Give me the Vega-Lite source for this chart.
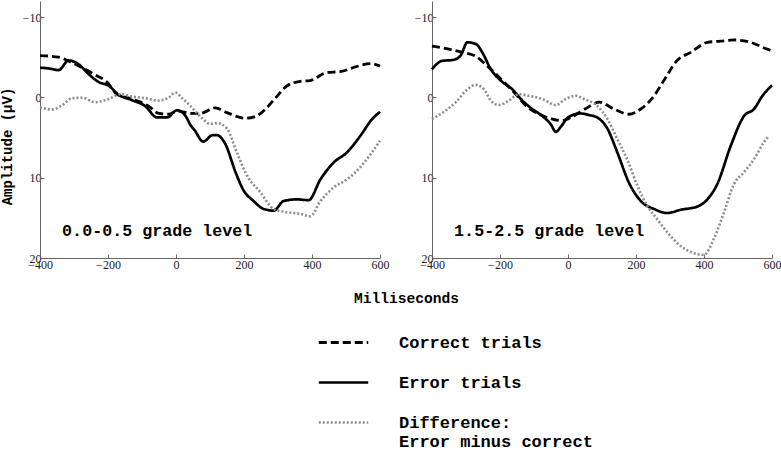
{
  "$schema": "https://vega.github.io/schema/vega-lite/v6.json",
  "padding": {"left": 0, "top": 1, "right": 0, "bottom": 0},
  "background": "white",
  "config": {
    "view": {"stroke": null},
    "axis": {
      "grid": false, "domainColor": "#666", "tickColor": "#666", "tickSize": -4,
      "labelFont": "Liberation Sans Narrow", "labelFontSize": 12, "labelColor": "#222", "labelFlush": false, "labelPadding": 3,
      "titleFont": "Liberation Mono", "titleFontWeight": "bold", "titleColor": "black"
    },
    "axisX": {"labelPadding": 5}
  },
  "datasets": {
    "erp": [
      {"panel":"A","series":"Correct","ms":-400,"uv":-5.2},{"panel":"A","series":"Correct","ms":-345,"uv":-5.0},{"panel":"A","series":"Correct","ms":-315,"uv":-4.5},{"panel":"A","series":"Correct","ms":-276,"uv":-3.7},{"panel":"A","series":"Correct","ms":-242,"uv":-2.9},{"panel":"A","series":"Correct","ms":-203,"uv":-1.9},{"panel":"A","series":"Correct","ms":-174,"uv":-0.4},{"panel":"A","series":"Correct","ms":-139,"uv":0.1},{"panel":"A","series":"Correct","ms":-110,"uv":0.5},{"panel":"A","series":"Correct","ms":-80,"uv":1.1},{"panel":"A","series":"Correct","ms":-51,"uv":2.0},{"panel":"A","series":"Correct","ms":-21,"uv":2.1},{"panel":"A","series":"Correct","ms":3,"uv":1.7},{"panel":"A","series":"Correct","ms":47,"uv":2.0},{"panel":"A","series":"Correct","ms":72,"uv":2.0},{"panel":"A","series":"Correct","ms":86,"uv":1.8},{"panel":"A","series":"Correct","ms":116,"uv":1.3},{"panel":"A","series":"Correct","ms":150,"uv":1.9},{"panel":"A","series":"Correct","ms":204,"uv":2.6},{"panel":"A","series":"Correct","ms":238,"uv":2.3},{"panel":"A","series":"Correct","ms":268,"uv":1.25},{"panel":"A","series":"Correct","ms":292,"uv":0.1},{"panel":"A","series":"Correct","ms":327,"uv":-1.45},{"panel":"A","series":"Correct","ms":366,"uv":-2.0},{"panel":"A","series":"Correct","ms":395,"uv":-2.1},{"panel":"A","series":"Correct","ms":444,"uv":-3.1},{"panel":"A","series":"Correct","ms":483,"uv":-3.2},{"panel":"A","series":"Correct","ms":528,"uv":-3.8},{"panel":"A","series":"Correct","ms":572,"uv":-4.2},{"panel":"A","series":"Correct","ms":600,"uv":-3.9},
      {"panel":"A","series":"Error","ms":-400,"uv":-3.7},{"panel":"A","series":"Error","ms":-374,"uv":-3.6},{"panel":"A","series":"Error","ms":-345,"uv":-3.4},{"panel":"A","series":"Error","ms":-316,"uv":-4.6},{"panel":"A","series":"Error","ms":-286,"uv":-4.1},{"panel":"A","series":"Error","ms":-257,"uv":-2.9},{"panel":"A","series":"Error","ms":-227,"uv":-1.9},{"panel":"A","series":"Error","ms":-198,"uv":-1.45},{"panel":"A","series":"Error","ms":-168,"uv":-0.3},{"panel":"A","series":"Error","ms":-129,"uv":0.35},{"panel":"A","series":"Error","ms":-90,"uv":1.1},{"panel":"A","series":"Error","ms":-56,"uv":2.5},{"panel":"A","series":"Error","ms":-26,"uv":2.5},{"panel":"A","series":"Error","ms":3,"uv":1.6},{"panel":"A","series":"Error","ms":28,"uv":2.3},{"panel":"A","series":"Error","ms":42,"uv":3.4},{"panel":"A","series":"Error","ms":55,"uv":4.1},{"panel":"A","series":"Error","ms":80,"uv":5.5},{"panel":"A","series":"Error","ms":108,"uv":4.7},{"panel":"A","series":"Error","ms":120,"uv":4.7},{"panel":"A","series":"Error","ms":145,"uv":5.8},{"panel":"A","series":"Error","ms":175,"uv":9.3},{"panel":"A","series":"Error","ms":199,"uv":11.6},{"panel":"A","series":"Error","ms":228,"uv":12.9},{"panel":"A","series":"Error","ms":258,"uv":13.9},{"panel":"A","series":"Error","ms":287,"uv":14.1},{"panel":"A","series":"Error","ms":317,"uv":12.9},{"panel":"A","series":"Error","ms":356,"uv":12.7},{"panel":"A","series":"Error","ms":390,"uv":12.8},{"panel":"A","series":"Error","ms":425,"uv":10.2},{"panel":"A","series":"Error","ms":464,"uv":8.1},{"panel":"A","series":"Error","ms":503,"uv":6.85},{"panel":"A","series":"Error","ms":542,"uv":4.8},{"panel":"A","series":"Error","ms":577,"uv":2.7},{"panel":"A","series":"Error","ms":600,"uv":1.8},
      {"panel":"A","series":"Difference","ms":-400,"uv":1.25},{"panel":"A","series":"Difference","ms":-365,"uv":1.5},{"panel":"A","series":"Difference","ms":-335,"uv":1.0},{"panel":"A","series":"Difference","ms":-306,"uv":0.1},{"panel":"A","series":"Difference","ms":-276,"uv":0.05},{"panel":"A","series":"Difference","ms":-237,"uv":0.6},{"panel":"A","series":"Difference","ms":-198,"uv":0.2},{"panel":"A","series":"Difference","ms":-164,"uv":-0.4},{"panel":"A","series":"Difference","ms":-129,"uv":-0.1},{"panel":"A","series":"Difference","ms":-90,"uv":0.1},{"panel":"A","series":"Difference","ms":-51,"uv":0.4},{"panel":"A","series":"Difference","ms":-21,"uv":0.0},{"panel":"A","series":"Difference","ms":-2,"uv":-0.6},{"panel":"A","series":"Difference","ms":18,"uv":0.1},{"panel":"A","series":"Difference","ms":42,"uv":1.05},{"panel":"A","series":"Difference","ms":77,"uv":2.6},{"panel":"A","series":"Difference","ms":100,"uv":3.3},{"panel":"A","series":"Difference","ms":121,"uv":3.2},{"panel":"A","series":"Difference","ms":150,"uv":3.9},{"panel":"A","series":"Difference","ms":179,"uv":6.85},{"panel":"A","series":"Difference","ms":209,"uv":9.75},{"panel":"A","series":"Difference","ms":248,"uv":11.8},{"panel":"A","series":"Difference","ms":287,"uv":13.9},{"panel":"A","series":"Difference","ms":327,"uv":14.3},{"panel":"A","series":"Difference","ms":366,"uv":14.5},{"panel":"A","series":"Difference","ms":395,"uv":14.8},{"panel":"A","series":"Difference","ms":425,"uv":12.9},{"panel":"A","series":"Difference","ms":464,"uv":11.2},{"panel":"A","series":"Difference","ms":503,"uv":10.2},{"panel":"A","series":"Difference","ms":542,"uv":8.7},{"panel":"A","series":"Difference","ms":572,"uv":7.1},{"panel":"A","series":"Difference","ms":600,"uv":5.4},
      {"panel":"B","series":"Correct","ms":-400,"uv":-6.4},{"panel":"B","series":"Correct","ms":-350,"uv":-6.0},{"panel":"B","series":"Correct","ms":-311,"uv":-5.6},{"panel":"B","series":"Correct","ms":-271,"uv":-5.1},{"panel":"B","series":"Correct","ms":-232,"uv":-3.7},{"panel":"B","series":"Correct","ms":-193,"uv":-2.1},{"panel":"B","series":"Correct","ms":-154,"uv":-0.4},{"panel":"B","series":"Correct","ms":-124,"uv":1.05},{"panel":"B","series":"Correct","ms":-85,"uv":2.1},{"panel":"B","series":"Correct","ms":-46,"uv":2.7},{"panel":"B","series":"Correct","ms":-17,"uv":2.9},{"panel":"B","series":"Correct","ms":13,"uv":2.4},{"panel":"B","series":"Correct","ms":50,"uv":1.45},{"panel":"B","series":"Correct","ms":93,"uv":0.6},{"panel":"B","series":"Correct","ms":135,"uv":1.45},{"panel":"B","series":"Correct","ms":179,"uv":2.1},{"panel":"B","series":"Correct","ms":214,"uv":1.45},{"panel":"B","series":"Correct","ms":248,"uv":0.1},{"panel":"B","series":"Correct","ms":282,"uv":-2.1},{"panel":"B","series":"Correct","ms":321,"uv":-4.6},{"panel":"B","series":"Correct","ms":361,"uv":-5.6},{"panel":"B","series":"Correct","ms":410,"uv":-6.85},{"panel":"B","series":"Correct","ms":449,"uv":-7.0},{"panel":"B","series":"Correct","ms":488,"uv":-7.15},{"panel":"B","series":"Correct","ms":537,"uv":-6.85},{"panel":"B","series":"Correct","ms":586,"uv":-6.0},{"panel":"B","series":"Correct","ms":600,"uv":-5.8},
      {"panel":"B","series":"Error","ms":-400,"uv":-3.5},{"panel":"B","series":"Error","ms":-370,"uv":-4.55},{"panel":"B","series":"Error","ms":-340,"uv":-4.65},{"panel":"B","series":"Error","ms":-316,"uv":-5.2},{"panel":"B","series":"Error","ms":-296,"uv":-6.85},{"panel":"B","series":"Error","ms":-271,"uv":-6.65},{"panel":"B","series":"Error","ms":-252,"uv":-5.6},{"panel":"B","series":"Error","ms":-227,"uv":-3.5},{"panel":"B","series":"Error","ms":-198,"uv":-2.1},{"panel":"B","series":"Error","ms":-164,"uv":-1.0},{"panel":"B","series":"Error","ms":-134,"uv":0.4},{"panel":"B","series":"Error","ms":-105,"uv":1.45},{"panel":"B","series":"Error","ms":-76,"uv":2.3},{"panel":"B","series":"Error","ms":-50,"uv":3.4},{"panel":"B","series":"Error","ms":-36,"uv":4.3},{"panel":"B","series":"Error","ms":-20,"uv":3.6},{"panel":"B","series":"Error","ms":0,"uv":2.5},{"panel":"B","series":"Error","ms":37,"uv":2.0},{"panel":"B","series":"Error","ms":62,"uv":2.2},{"panel":"B","series":"Error","ms":86,"uv":2.5},{"panel":"B","series":"Error","ms":116,"uv":3.9},{"panel":"B","series":"Error","ms":145,"uv":6.85},{"panel":"B","series":"Error","ms":179,"uv":10.6},{"panel":"B","series":"Error","ms":214,"uv":12.9},{"panel":"B","series":"Error","ms":253,"uv":13.9},{"panel":"B","series":"Error","ms":292,"uv":14.4},{"panel":"B","series":"Error","ms":331,"uv":14.0},{"panel":"B","series":"Error","ms":380,"uv":13.6},{"panel":"B","series":"Error","ms":410,"uv":12.7},{"panel":"B","series":"Error","ms":439,"uv":10.8},{"panel":"B","series":"Error","ms":479,"uv":6.0},{"panel":"B","series":"Error","ms":518,"uv":2.3},{"panel":"B","series":"Error","ms":547,"uv":1.45},{"panel":"B","series":"Error","ms":572,"uv":-0.2},{"panel":"B","series":"Error","ms":600,"uv":-1.5},
      {"panel":"B","series":"Difference","ms":-400,"uv":2.7},{"panel":"B","series":"Difference","ms":-360,"uv":1.65},{"panel":"B","series":"Difference","ms":-330,"uv":0.6},{"panel":"B","series":"Difference","ms":-301,"uv":-0.8},{"panel":"B","series":"Difference","ms":-271,"uv":-1.55},{"panel":"B","series":"Difference","ms":-247,"uv":-1.0},{"panel":"B","series":"Difference","ms":-227,"uv":0.4},{"panel":"B","series":"Difference","ms":-203,"uv":0.95},{"panel":"B","series":"Difference","ms":-174,"uv":0.4},{"panel":"B","series":"Difference","ms":-144,"uv":-0.4},{"panel":"B","series":"Difference","ms":-115,"uv":-0.2},{"panel":"B","series":"Difference","ms":-76,"uv":0.2},{"panel":"B","series":"Difference","ms":-36,"uv":0.95},{"panel":"B","series":"Difference","ms":-7,"uv":0.2},{"panel":"B","series":"Difference","ms":23,"uv":-0.2},{"panel":"B","series":"Difference","ms":47,"uv":0.2},{"panel":"B","series":"Difference","ms":86,"uv":1.05},{"panel":"B","series":"Difference","ms":116,"uv":2.7},{"panel":"B","series":"Difference","ms":145,"uv":5.2},{"panel":"B","series":"Difference","ms":174,"uv":7.7},{"panel":"B","series":"Difference","ms":204,"uv":11.0},{"panel":"B","series":"Difference","ms":233,"uv":13.5},{"panel":"B","series":"Difference","ms":263,"uv":15.2},{"panel":"B","series":"Difference","ms":292,"uv":16.8},{"panel":"B","series":"Difference","ms":331,"uv":18.5},{"panel":"B","series":"Difference","ms":371,"uv":19.4},{"panel":"B","series":"Difference","ms":400,"uv":19.6},{"panel":"B","series":"Difference","ms":429,"uv":17.6},{"panel":"B","series":"Difference","ms":459,"uv":14.3},{"panel":"B","series":"Difference","ms":488,"uv":10.8},{"panel":"B","series":"Difference","ms":518,"uv":9.3},{"panel":"B","series":"Difference","ms":547,"uv":7.7},{"panel":"B","series":"Difference","ms":576,"uv":5.6},{"panel":"B","series":"Difference","ms":590,"uv":4.8}
    ],
    "labels": [
      {"panel":"A","label":"0.0-0.5 grade level"},
      {"panel":"B","label":"1.5-2.5 grade level"}
    ]
  },
  "bounds": "flush",
  "spacing": 52,
  "resolve": {"scale": {"color": "shared", "strokeDash": "shared", "strokeWidth": "shared"}, "legend": {"color": "shared"}},
  "hconcat": [
    {
      "width": 340, "height": 257,
      "layer": [
        {
          "data": {"name": "erp"},
          "transform": [{"filter": "datum.panel == 'A'"}],
          "mark": {"type": "line", "interpolate": "monotone"},
          "encoding": {
            "x": {"field": "ms", "type": "quantitative", "scale": {"domain": [-400, 600], "nice": false},
                  "axis": {"values": [-400, -200, 0, 200, 400, 600], "title": "Milliseconds", "titleX": 366, "titleY": 40, "titleBaseline": "middle", "titleFontSize": 14.6}},
            "y": {"field": "uv", "type": "quantitative", "scale": {"domain": [-12, 20], "reverse": true, "nice": false, "zero": false},
                  "axis": {"values": [-10, 0, 10, 20], "title": "Amplitude (µV)", "titleX": -33, "titleY": 145, "titleBaseline": "middle", "titleAlign": "center", "titleFontSize": 14}},
            "color": {"field": "series", "type": "nominal", "scale": {"domain": ["Correct", "Error", "Difference"], "range": ["#000000", "#000000", "#8c8c8c"]},
              "legend": {
                "orient": "none", "legendX": 277, "legendY": 315, "title": null, "direction": "vertical",
                "symbolType": "stroke", "symbolSize": 2450, "rowPadding": 5,
                "labelFont": "Liberation Mono", "labelFontWeight": "bold", "labelFontSize": 17, "labelColor": "black", "labelOffset": 29, "labelLimit": 400,
                "labelExpr": "datum.value == 'Correct' ? 'Correct trials' : datum.value == 'Error' ? 'Error trials' : ['Difference:', 'Error minus correct']"
              }},
            "strokeDash": {"field": "series", "type": "nominal", "scale": {"domain": ["Correct", "Error", "Difference"], "range": [[8, 4], [1, 0], [2, 2]]}, "legend": null},
            "strokeWidth": {"field": "series", "type": "nominal", "scale": {"domain": ["Correct", "Error", "Difference"], "range": [2.8, 2.6, 2.2]}, "legend": null}
          }
        },
        {"mark": {"type": "rule", "strokeDash": [8, 4], "strokeWidth": 1, "color": "#000000"}, "encoding": {"y": {"datum": 0}}},
        {"mark": {"type": "rule", "strokeDash": [8, 4], "strokeWidth": 1, "color": "#000000"}, "encoding": {"x": {"datum": 0}}},
        {
          "data": {"name": "labels"},
          "transform": [{"filter": "datum.panel == 'A'"}],
          "mark": {"type": "text", "align": "left", "baseline": "middle", "font": "Liberation Mono", "fontWeight": "bold", "fontSize": 16.7, "color": "#000000"},
          "encoding": {"x": {"datum": -335}, "y": {"datum": 16.6}, "text": {"field": "label"}}
        }
      ]
    },
    {
      "width": 340, "height": 257,
      "layer": [
        {
          "data": {"name": "erp"},
          "transform": [{"filter": "datum.panel == 'B'"}],
          "mark": {"type": "line", "interpolate": "monotone"},
          "encoding": {
            "x": {"field": "ms", "type": "quantitative", "scale": {"domain": [-400, 600], "nice": false},
                  "axis": {"values": [-400, -200, 0, 200, 400, 600], "title": null}},
            "y": {"field": "uv", "type": "quantitative", "scale": {"domain": [-12, 20], "reverse": true, "nice": false, "zero": false},
                  "axis": {"values": [-10, 0, 10, 20], "title": null}},
            "color": {"field": "series", "type": "nominal", "scale": {"domain": ["Correct", "Error", "Difference"], "range": ["#000000", "#000000", "#8c8c8c"]}, "legend": null},
            "strokeDash": {"field": "series", "type": "nominal", "scale": {"domain": ["Correct", "Error", "Difference"], "range": [[8, 4], [1, 0], [2, 2]]}, "legend": null},
            "strokeWidth": {"field": "series", "type": "nominal", "scale": {"domain": ["Correct", "Error", "Difference"], "range": [2.8, 2.6, 2.2]}, "legend": null}
          }
        },
        {"mark": {"type": "rule", "strokeDash": [8, 4], "strokeWidth": 1, "color": "#000000"}, "encoding": {"y": {"datum": 0}}},
        {"mark": {"type": "rule", "strokeDash": [8, 4], "strokeWidth": 1, "color": "#000000"}, "encoding": {"x": {"datum": 0}}},
        {
          "data": {"name": "labels"},
          "transform": [{"filter": "datum.panel == 'B'"}],
          "mark": {"type": "text", "align": "left", "baseline": "middle", "font": "Liberation Mono", "fontWeight": "bold", "fontSize": 16.7, "color": "#000000"},
          "encoding": {"x": {"datum": -335}, "y": {"datum": 16.6}, "text": {"field": "label"}}
        }
      ]
    }
  ]
}
